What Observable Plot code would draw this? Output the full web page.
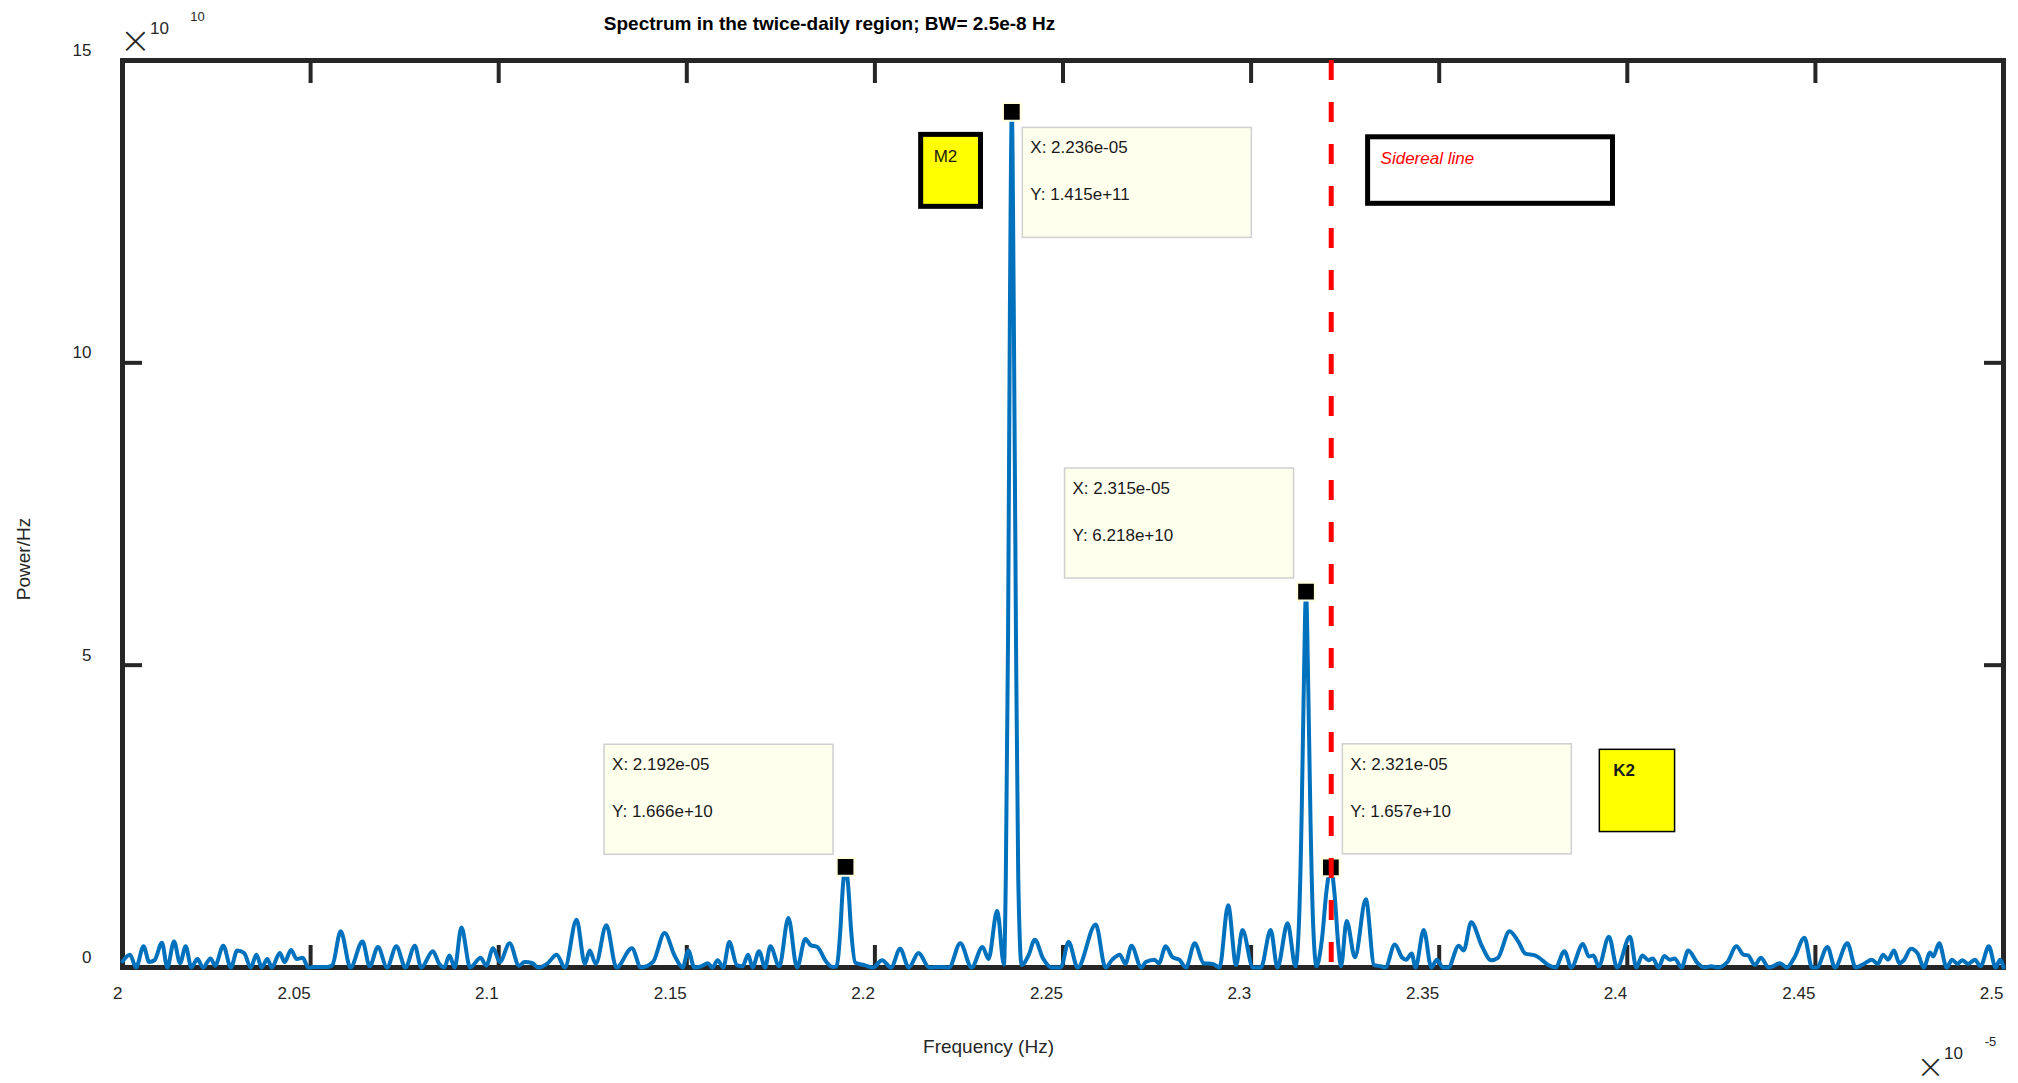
<!DOCTYPE html>
<html>
<head>
<meta charset="utf-8">
<script src="https://cdn.jsdelivr.net/npm/d3@7"></script>
<script src="https://cdn.jsdelivr.net/npm/@observablehq/plot@0.6"></script>
<style>
  html, body { margin: 0; padding: 0; background: #ffffff; }
  #chart svg { display: block; }
</style>
</head>
<body>
<div id="chart"></div>
<script>
// ---- Data (frequency in units of 1e-5 Hz, power in units of 1e10 Power/Hz) ----
const freq = [
  2.0000, 2.0020, 2.0036, 2.0056, 2.0071, 2.0085, 2.0105, 2.0119, 2.0137, 2.0153,
  2.0168, 2.0183, 2.0199, 2.0214, 2.0234, 2.0246, 2.0268, 2.0288, 2.0305, 2.0323,
  2.0341, 2.0356, 2.0370, 2.0385, 2.0397, 2.0418, 2.0431, 2.0448, 2.0463, 2.0479,
  2.0494, 2.0514, 2.0545, 2.0558, 2.0580, 2.0606, 2.0638, 2.0657, 2.0679, 2.0703,
  2.0728, 2.0752, 2.0777, 2.0794, 2.0825, 2.0842, 2.0855, 2.0869, 2.0883, 2.0901,
  2.0924, 2.0952, 2.0967, 2.0985, 2.1003, 2.1029, 2.1054, 2.1069, 2.1090, 2.1105,
  2.1130, 2.1154, 2.1176, 2.1207, 2.1229, 2.1242, 2.1258, 2.1286, 2.1313, 2.1354,
  2.1378, 2.1410, 2.1441, 2.1468, 2.1489, 2.1504, 2.1520, 2.1538, 2.1556, 2.1568,
  2.1582, 2.1597, 2.1613, 2.1633, 2.1648, 2.1663, 2.1675, 2.1692, 2.1708, 2.1722,
  2.1746, 2.1770, 2.1793, 2.1815, 2.1829, 2.1847, 2.1870, 2.1888, 2.1898, 2.1908,
  2.1915, 2.1922, 2.1929, 2.1937, 2.1948, 2.1972, 2.1995, 2.2019, 2.2043, 2.2067,
  2.2090, 2.2116, 2.2144, 2.2173, 2.2197, 2.2227, 2.2257, 2.2286, 2.2302, 2.2325,
  2.2343, 2.2348, 2.2354, 2.2359, 2.2364, 2.2369, 2.2375, 2.2381, 2.2390, 2.2409,
  2.2425, 2.2447, 2.2470, 2.2494, 2.2515, 2.2539, 2.2587, 2.2613, 2.2631, 2.2651,
  2.2666, 2.2682, 2.2708, 2.2720, 2.2743, 2.2755, 2.2773, 2.2791, 2.2809, 2.2827,
  2.2850, 2.2874, 2.2898, 2.2916, 2.2939, 2.2960, 2.2977, 2.3005, 2.3026, 2.3052,
  2.3070, 2.3097, 2.3118, 2.3127, 2.3134, 2.3140, 2.3146, 2.3152, 2.3158, 2.3165,
  2.3174, 2.3188, 2.3201, 2.3212, 2.3222, 2.3232, 2.3239, 2.3254, 2.3276, 2.3305,
  2.3327, 2.3345, 2.3357, 2.3382, 2.3402, 2.3412, 2.3427, 2.3437, 2.3459, 2.3479,
  2.3494, 2.3510, 2.3524, 2.3552, 2.3565, 2.3585, 2.3613, 2.3638, 2.3656, 2.3687,
  2.3711, 2.3729, 2.3754, 2.3766, 2.3790, 2.3809, 2.3833, 2.3851, 2.3882, 2.3898,
  2.3910, 2.3924, 2.3951, 2.3973, 2.4007, 2.4024, 2.4040, 2.4056, 2.4068, 2.4083,
  2.4098, 2.4113, 2.4126, 2.4144, 2.4162, 2.4187, 2.4205, 2.4223, 2.4241, 2.4266,
  2.4290, 2.4309, 2.4321, 2.4339, 2.4355, 2.4376, 2.4406, 2.4424, 2.4443, 2.4471,
  2.4491, 2.4504, 2.4532, 2.4552, 2.4585, 2.4607, 2.4632, 2.4650, 2.4666, 2.4680,
  2.4693, 2.4709, 2.4723, 2.4735, 2.4754, 2.4772, 2.4788, 2.4805, 2.4813, 2.4829,
  2.4849, 2.4863, 2.4878, 2.4890, 2.4906, 2.4924, 2.4939, 2.4961, 2.4979, 2.4991, 2.5000
];
const power = [
  0.10, 0.21, 0.00, 0.35, 0.09, 0.12, 0.41, 0.00, 0.43, 0.07,
  0.35, 0.00, 0.14, 0.00, 0.15, 0.03, 0.36, 0.00, 0.28, 0.24,
  0.00, 0.21, 0.00, 0.14, 0.00, 0.24, 0.09, 0.29, 0.14, 0.16,
  0.00, 0.01, 0.01, 0.04, 0.60, 0.00, 0.43, 0.02, 0.34, 0.00,
  0.35, 0.00, 0.36, 0.00, 0.27, 0.06, 0.00, 0.20, 0.00, 0.66,
  0.00, 0.16, 0.03, 0.32, 0.09, 0.40, 0.03, 0.09, 0.07, 0.00,
  0.07, 0.21, 0.00, 0.79, 0.06, 0.28, 0.06, 0.70, 0.00, 0.32,
  0.00, 0.09, 0.57, 0.19, 0.00, 0.28, 0.00, 0.02, 0.07, 0.00,
  0.12, 0.00, 0.42, 0.04, 0.02, 0.21, 0.00, 0.27, 0.00, 0.35,
  0.02, 0.82, 0.00, 0.47, 0.37, 0.34, 0.10, 0.01, 0.02, 0.60,
  1.35, 1.666, 1.35, 0.60, 0.08, 0.04, 0.00, 0.12, 0.00, 0.31,
  0.00, 0.24, 0.00, 0.01, 0.00, 0.40, 0.00, 0.34, 0.14, 0.94,
  0.05, 1.5, 5.5, 11.0, 14.15, 11.0, 5.5, 1.5, 0.04, 0.21,
  0.46, 0.15, 0.00, 0.00, 0.42, 0.00, 0.71, 0.00, 0.13, 0.21,
  0.06, 0.36, 0.00, 0.09, 0.13, 0.07, 0.35, 0.17, 0.13, 0.00,
  0.40, 0.07, 0.06, 0.00, 1.03, 0.04, 0.62, 0.00, 0.00, 0.62,
  0.00, 0.73, 0.02, 0.70, 2.40, 4.60, 6.218, 4.60, 2.40, 0.70,
  0.02, 0.45, 1.30, 1.657, 1.20, 0.35, 0.02, 0.77, 0.17, 1.13,
  0.04, 0.02, 0.00, 0.38, 0.16, 0.13, 0.23, 0.00, 0.62, 0.00,
  0.13, 0.00, 0.00, 0.36, 0.28, 0.75, 0.36, 0.12, 0.16, 0.60,
  0.42, 0.23, 0.20, 0.16, 0.04, 0.00, 0.27, 0.00, 0.39, 0.18,
  0.20, 0.02, 0.51, 0.00, 0.51, 0.00, 0.20, 0.12, 0.15, 0.00,
  0.19, 0.13, 0.15, 0.00, 0.28, 0.07, 0.00, 0.02, 0.00, 0.09,
  0.35, 0.21, 0.20, 0.04, 0.16, 0.00, 0.07, 0.00, 0.15, 0.49,
  0.00, 0.00, 0.34, 0.00, 0.40, 0.00, 0.07, 0.13, 0.06, 0.21,
  0.13, 0.28, 0.07, 0.12, 0.31, 0.23, 0.00, 0.25, 0.18, 0.40,
  0.00, 0.13, 0.06, 0.12, 0.06, 0.13, 0.02, 0.35, 0.00, 0.13, 0.00
];

// Data tips (picked points)
const tipX = [2.1922, 2.2364, 2.3146, 2.3212];
const tipY = [1.666, 14.15, 6.218, 1.657];

// Sidereal line frequency (2 cycles per sidereal day)
const siderealX = [2.3213];

// Ticks
const xTicks = [2, 2.05, 2.1, 2.15, 2.2, 2.25, 2.3, 2.35, 2.4, 2.45, 2.5];
const yTicks = [0, 5, 10, 15];

// Text
const titleText = ["Spectrum in the twice-daily region; BW= 2.5e-8 Hz"];
const xLabel = ["Frequency (Hz)"];
const yLabel = ["Power/Hz"];

// Annotation boxes (data coordinates)
const noteText = ["M2", "Sidereal line", "K2"];
const noteX1 = [2.2123, 2.3311, 2.3927];
const noteX2 = [2.2282, 2.3962, 2.4127];
const noteY1 = [12.58, 12.63, 2.24];
const noteY2 = [13.77, 13.73, 3.60];

// ---- Layout / styles ----
const tipLayout = {
  dx: [-241, 11, -241, 12],   // box top-left offset from point (px)
  dy: [-122, 16, -123, -123],
  w: 229, h: 110
};
const axisColor = "#262626";
const lineColor = "#0072BD";

function fmtExp(v) {
  const [m, e] = v.toExponential(3).split("e");
  const sign = e[0] === "-" ? "-" : "+";
  const digits = e.replace(/^[+-]/, "").padStart(2, "0");
  return m + "e" + sign + digits;
}

function datatips(index, scales, values, dimensions) {
  const sx = scales.x, sy = scales.y;
  const g = d3.create("svg:g").attr("text-anchor", "start");
  tipX.forEach((tx, i) => {
    const px = sx(tx), py = sy(tipY[i]);
    const bx = px + tipLayout.dx[i], by = py + tipLayout.dy[i];
    g.append("rect")
      .attr("x", bx).attr("y", by)
      .attr("width", tipLayout.w).attr("height", tipLayout.h)
      .attr("fill", "#FFFFEE").attr("stroke", "#CFCFCF").attr("stroke-width", 1.5);
    g.append("text")
      .attr("x", bx + 8).attr("y", by + 26)
      .attr("text-anchor", "start")
      .attr("font-size", 17).attr("fill", "#1a1a1a")
      .text("X: " + fmtExp(tx * 1e-5));
    g.append("text")
      .attr("x", bx + 8).attr("y", by + 73)
      .attr("text-anchor", "start")
      .attr("font-size", 17).attr("fill", "#1a1a1a")
      .text("Y: " + fmtExp(tipY[i] * 1e10));
  });
  return g.node();
}

const noteStyles = [
  {fill: "#FFFF00", stroke: "black", strokeWidth: 5, textFill: "#1a1a1a", fontWeight: "normal", fontStyle: "normal", dx: 12.5, dy: 27.5},
  {fill: "#FFFFFF", stroke: "black", strokeWidth: 5, textFill: "#FF0000", fontWeight: "normal", fontStyle: "italic", dx: 12.5, dy: 26.5},
  {fill: "#FFFF00", stroke: "black", strokeWidth: 1.5, textFill: "#1a1a1a", fontWeight: "bold", fontStyle: "normal", dx: 13.5, dy: 26.5}
];

const noteMarks = noteText.flatMap((t, i) => {
  const s = noteStyles[i];
  return [
    Plot.rect([i], {x1: noteX1[i], x2: noteX2[i], y1: noteY1[i], y2: noteY2[i],
      fill: s.fill, stroke: s.stroke, strokeWidth: s.strokeWidth}),
    Plot.text([t], {x: noteX1[i], y: noteY2[i], text: d => d, dx: s.dx, dy: s.dy,
      textAnchor: "start", lineAnchor: "bottom", fill: s.textFill,
      fontWeight: s.fontWeight, fontStyle: s.fontStyle, fontSize: 17})
  ];
});

const chart = Plot.plot({
  width: 2018,
  height: 1083,
  marginLeft: 122,
  marginRight: 15,
  marginTop: 60,
  marginBottom: 116,
  style: {
    fontFamily: "'Liberation Sans', Arial, Helvetica, sans-serif",
    fontSize: "17px",
    color: axisColor,
    background: "#ffffff",
    overflow: "visible"
  },
  x: {domain: [2, 2.5]},
  y: {domain: [0, 15]},
  marks: [
    Plot.frame({stroke: axisColor, strokeWidth: 5}),
    Plot.axisX(xTicks, {anchor: "bottom", tickSize: -22, strokeWidth: 4, stroke: axisColor, tickFormat: () => "", label: null}),
    Plot.axisX(xTicks, {anchor: "top", tickSize: -22, strokeWidth: 4, stroke: axisColor, tickFormat: () => "", label: null}),
    Plot.axisX(xTicks, {anchor: "bottom", tickSize: 0, tickPadding: 19, textAnchor: "end", fontSize: 17,
      tickFormat: d => String(+d.toFixed(2)), label: null}),
    Plot.axisY(yTicks, {anchor: "left", tickSize: -20, strokeWidth: 4, stroke: axisColor, tickFormat: () => "", label: null}),
    Plot.axisY(yTicks, {anchor: "right", tickSize: -20, strokeWidth: 4, stroke: axisColor, tickFormat: () => "", label: null}),
    Plot.axisY(yTicks, {anchor: "left", tickSize: 0, tickPadding: 31, dy: -10, fontSize: 17,
      tickFormat: d => String(d), label: null}),

    Plot.lineY(power, {x: freq, stroke: lineColor, strokeWidth: 4, curve: "monotone-x"}),
    Plot.dot(tipX, {x: d => d, y: (d, i) => tipY[i], symbol: "square", r: 10,
      fill: "black", stroke: "#FFFFE0", strokeWidth: 2}),
    Plot.ruleX(siderealX, {stroke: "#FF0000", strokeWidth: 5, strokeDasharray: "20,22"}),

    ...noteMarks,
    datatips,

    Plot.text(titleText, {frameAnchor: "top-left", text: d => d, dx: 707, dy: -31,
      textAnchor: "middle", lineAnchor: "bottom", fontWeight: "bold", fontSize: 19, fill: "black"}),
    Plot.text(xLabel, {frameAnchor: "bottom", text: d => d, dx: -74.5, dy: 79,
      textAnchor: "middle", lineAnchor: "middle", fontSize: 19}),
    Plot.text(yLabel, {frameAnchor: "left", text: d => d, dx: -99, dy: 45, rotate: -90,
      textAnchor: "middle", lineAnchor: "middle", fontSize: 19}),

    // exponent labels
    Plot.text(["×"], {frameAnchor: "top-left", text: d => d, dx: 13, dy: -20,
      textAnchor: "middle", lineAnchor: "middle", fontSize: 38,
      fontFamily: "'DejaVu Sans', sans-serif", fontWeight: 200}),
    Plot.text(["10"], {frameAnchor: "top-left", text: d => d, dx: 37, dy: -27,
      textAnchor: "middle", lineAnchor: "bottom", fontSize: 17}),
    Plot.text(["10"], {frameAnchor: "top-left", text: d => d, dx: 75, dy: -40,
      textAnchor: "middle", lineAnchor: "bottom", fontSize: 13}),
    Plot.text(["×"], {frameAnchor: "bottom-right", text: d => d, dx: -73, dy: 100,
      textAnchor: "middle", lineAnchor: "middle", fontSize: 34,
      fontFamily: "'DejaVu Sans', sans-serif", fontWeight: 200}),
    Plot.text(["10"], {frameAnchor: "bottom-right", text: d => d, dx: -50, dy: 91,
      textAnchor: "middle", lineAnchor: "bottom", fontSize: 17}),
    Plot.text(["-5"], {frameAnchor: "bottom-right", text: d => d, dx: -13, dy: 78,
      textAnchor: "middle", lineAnchor: "bottom", fontSize: 13})
  ]
});

document.getElementById("chart").appendChild(chart);
</script>
</body>
</html>
